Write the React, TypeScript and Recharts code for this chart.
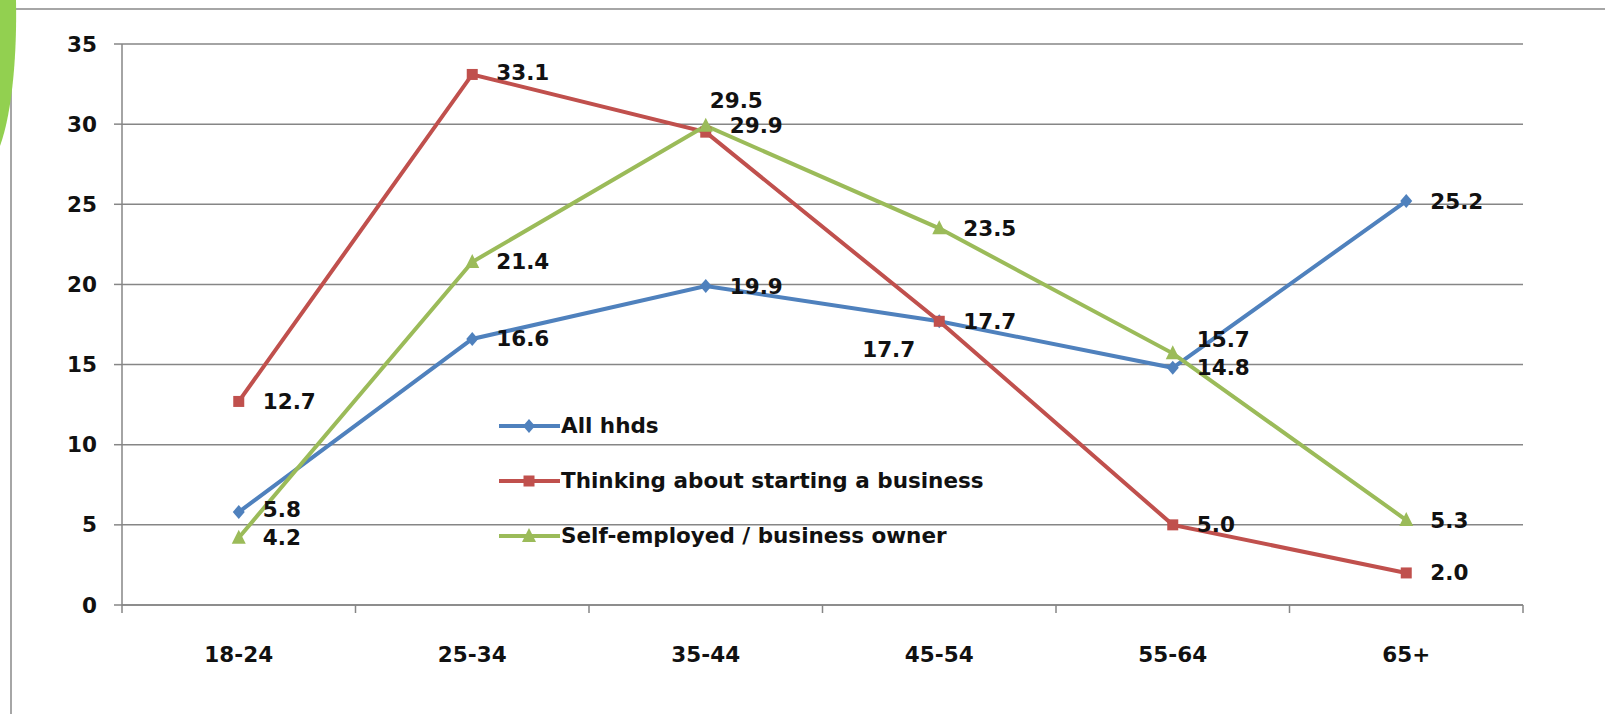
import React from "react";
import { LineChart, Line, XAxis, YAxis, CartesianGrid, Legend, LabelList } from "recharts";

const ageGroups = ["18-24", "25-34", "35-44", "45-54", "55-64", "65+"];
const allHhds = [5.8, 16.6, 19.9, 17.7, 14.8, 25.2];
const thinkingAbout = [12.7, 33.1, 29.5, 17.7, 5.0, 2.0];
const selfEmployed = [4.2, 21.4, 29.9, 23.5, 15.7, 5.3];
const yTicks = [0, 5, 10, 15, 20, 25, 30, 35];

const data = ageGroups.map((age, i) => ({
  age,
  all: allHhds[i],
  thinking: thinkingAbout[i],
  self: selfEmployed[i],
}));

const BLUE = "#4F81BD";
const RED = "#C0504D";
const GREEN = "#9BBB59";
const GRID = "#868686";
const FONT = "'DejaVu Sans', Verdana, sans-serif";

const W = 1605;
const H = 714;
const M = { top: 44, right: 82, bottom: 49, left: 0 };
const Y_W = 122;
const BAND_HALF = (W - M.right - Y_W) / 12;

// label placement for each point: dx, dy, anchor
type Place = [number, number, "start" | "end"];
const R: Place = [24, 0, "start"];
const allPlace: Place[] = [[24, -3, "start"], R, R, R, R, R];
const thinkPlace: Place[] = [R, [24, -2, "start"], [4, -32, "start"], [-24, 28, "end"], R, R];
const selfPlace: Place[] = [[24, 0, "start"], R, R, R, [24, -14, "start"], R];

const textStyle = { fontFamily: FONT, fontWeight: 700, fontSize: 21.5, fill: "#111" };

const makeLabel = (place: Place[]) => (props: any) => {
  const { x, y, value, index } = props;
  const [dx, dy, anchor] = place[index];
  return (
    <text x={x + dx} y={y + dy} textAnchor={anchor} dominantBaseline="central" style={textStyle}>
      {Number(value).toFixed(1)}
    </text>
  );
};

const Diamond = ({ cx, cy, fill }: any) => (
  <polygon points={`${cx},${cy - 7} ${cx + 6},${cy} ${cx},${cy + 7} ${cx - 6},${cy}`} fill={fill} />
);
const Square = ({ cx, cy, fill }: any) => <rect x={cx - 5.5} y={cy - 5.5} width={11} height={11} fill={fill} />;
const Triangle = ({ cx, cy, fill }: any) => (
  <polygon points={`${cx},${cy - 8} ${cx + 7},${cy + 6} ${cx - 7},${cy + 6}`} fill={fill} />
);

const series = [
  { key: "all", name: "All hhds", color: BLUE, Marker: Diamond, place: allPlace },
  { key: "thinking", name: "Thinking about starting a business", color: RED, Marker: Square, place: thinkPlace },
  { key: "self", name: "Self-employed / business owner", color: GREEN, Marker: Triangle, place: selfPlace },
];

const XTick = (props: any) => {
  const { x, y, payload, index } = props;
  const half = payload && payload.offset ? payload.offset : BAND_HALF;
  const last = index === ageGroups.length - 1;
  return (
    <g>
      <line x1={x - half} x2={x - half} y1={y} y2={y + 8} stroke={GRID} strokeWidth={1.5} />
      {last && <line x1={x + half} x2={x + half} y1={y} y2={y + 8} stroke={GRID} strokeWidth={1.5} />}
      <text x={x} y={y + 57} textAnchor="middle" style={textStyle}>
        {payload.value}
      </text>
    </g>
  );
};

const LegendBox = () => (
  <div style={{ fontFamily: FONT, fontWeight: 700, fontSize: 21.5, color: "#111" }}>
    {series.map((s) => (
      <div key={s.key} style={{ display: "flex", alignItems: "center", height: 55 }}>
        <svg width={64} height={20} style={{ display: "block" }}>
          <line x1={2} x2={63} y1={10} y2={10} stroke={s.color} strokeWidth={4} />
          <s.Marker cx={32} cy={10} fill={s.color} />
        </svg>
        <span style={{ whiteSpace: "nowrap" }}>{s.name}</span>
      </div>
    ))}
  </div>
);

export default function App() {
  return (
    <div style={{ position: "absolute", left: 0, top: 0, width: W, height: H, overflow: "hidden", background: "#fff" }}>
      <div
        style={{
          position: "absolute",
          left: 10,
          top: 8,
          width: W + 40,
          height: H + 40,
          border: "2px solid #a6a6a6",
        }}
      />
      <svg width={20} height={150} style={{ position: "absolute", left: 0, top: 0 }}>
        <path d="M0,0 L16,0 C17,50 13,110 0,146 Z" fill="#92D050" />
      </svg>
      <div style={{ position: "absolute", left: 0, top: 0 }}>
        <LineChart width={W} height={H} data={data} margin={M}>
          <CartesianGrid vertical={false} stroke={GRID} strokeWidth={1.5} />
          <XAxis
            dataKey="age"
            height={60}
            padding={{ left: BAND_HALF, right: BAND_HALF }}
            axisLine={{ stroke: GRID, strokeWidth: 1.5 }}
            tickLine={false}
            tickSize={0}
            tickMargin={0}
            interval={0}
            tick={<XTick />}
          />
          <YAxis
            width={Y_W}
            domain={[0, 35]}
            ticks={yTicks}
            axisLine={{ stroke: GRID, strokeWidth: 1.5 }}
            tickLine={{ stroke: GRID, strokeWidth: 1.5 }}
            tickSize={8}
            tickMargin={17}
            tick={textStyle}
          />
          <Legend
            layout="vertical"
            align="center"
            verticalAlign="middle"
            content={() => <LegendBox />}
            wrapperStyle={{ left: 497, top: 398, width: 560 }}
          />
          {series.map((s) => (
            <Line
              key={s.key}
              dataKey={s.key}
              name={s.name}
              type="linear"
              stroke={s.color}
              strokeWidth={4}
              isAnimationActive={false}
              dot={(p: any) => <s.Marker key={`${s.key}-${p.index}`} cx={p.cx} cy={p.cy} fill={s.color} />}
              activeDot={false}
            >
              <LabelList dataKey={s.key} content={makeLabel(s.place)} />
            </Line>
          ))}
        </LineChart>
      </div>
    </div>
  );
}
